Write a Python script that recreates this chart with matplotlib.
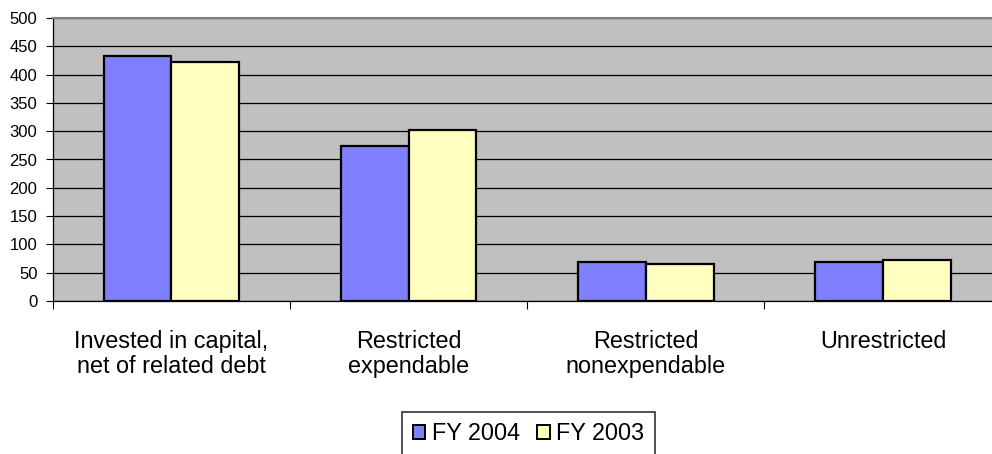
import numpy as np
import matplotlib
matplotlib.use("Agg")
import matplotlib.pyplot as plt
from matplotlib.patches import Patch

categories = ["Invested in capital,\nnet of related debt", "Restricted\nexpendable",
              "Restricted\nnonexpendable", "Unrestricted"]
fy2004 = [433, 274, 69, 69]
fy2003 = [422, 302, 65, 72]
series_names = ["FY 2004", "FY 2003"]
colors = ["#8080FF", "#FFFFC0"]

plt.rcParams['font.family'] = ['Liberation Sans', 'DejaVu Sans']

W, H = 992, 454
fig = plt.figure(figsize=(W/100, H/100), dpi=100)
# plot area runs a bit past the right edge of the picture
x0, x1, y0, y1 = 52.7, 1001.7, 18, 301
ax = fig.add_axes([x0/W, 1-y1/H, (x1-x0)/W, (y1-y0)/H])
ax.set_facecolor("#C0C0C0")

n = len(categories)
x = np.arange(n)
bw = 1/3.5
ax.bar(x - bw/2, fy2004, bw, color=colors[0], edgecolor="black", linewidth=1.6, zorder=3)
ax.bar(x + bw/2, fy2003, bw, color=colors[1], edgecolor="black", linewidth=1.6, zorder=3)

ax.set_xlim(-0.5, n - 0.5)
ax.set_ylim(0, 500)
ax.set_yticks(np.arange(0, 501, 50))
ax.yaxis.grid(True, color="black", linewidth=0.9, zorder=1)
ax.set_axisbelow(True)
ax.tick_params(axis="y", labelsize=12, length=5, width=0.8, pad=6, direction="out")

# category boundaries as ticks, labels in the middle
ax.set_xticks(np.arange(-0.5, n, 1.0))
ax.set_xticklabels([])
ax.set_xticks(x, minor=True)
ax.set_xticklabels(categories, minor=True, fontsize=16.8, linespacing=1.08)
ax.tick_params(axis="x", which="major", length=6, width=0.8)
ax.tick_params(axis="x", which="minor", length=0, pad=21)

for s in ["left", "bottom"]:
    ax.spines[s].set_color("black")
    ax.spines[s].set_linewidth(0.9)
ax.spines["top"].set_color("#808080")
ax.spines["top"].set_linewidth(1.5)
ax.spines["right"].set_visible(False)

handles = [Patch(facecolor=c, edgecolor="black", linewidth=1.4) for c in colors]
leg = fig.legend(handles, series_names, loc="upper center",
                 bbox_to_anchor=(528.5/W, 1-412/H), fontsize=16.8,
                 frameon=True, fancybox=False, ncol=2, handlelength=0.55,
                 handleheight=0.55, handletextpad=0.3, columnspacing=0.7,
                 borderpad=0.45, borderaxespad=0)
leg.get_frame().set_edgecolor("black")
leg.get_frame().set_linewidth(1.2)

fig.savefig("out.png", dpi=100)
